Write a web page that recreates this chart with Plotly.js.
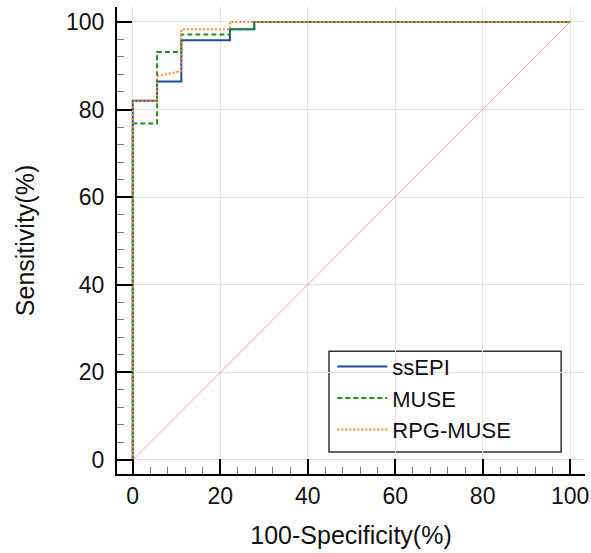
<!DOCTYPE html>
<html>
<head>
<meta charset="utf-8">
<script src="https://cdn.plot.ly/plotly-3.0.1.min.js"></script>
<style>
html,body{margin:0;padding:0;background:#fff;}
#chart{width:591px;height:553px;}
</style>
</head>
<body>
<div id="chart"></div>
<script>
// ROC step curves (100-Specificity %, Sensitivity %)
var ssEPI_x = [0, 0, 5.56, 5.56, 11.11, 11.11, 22.22, 22.22, 27.78, 27.78, 100];
var ssEPI_y = [0, 82.0, 82.0, 86.4, 86.4, 95.8, 95.8, 98.3, 98.3, 100, 100];

var MUSE_x = [0, 0, 5.56, 5.56, 11.11, 11.11, 22.22, 22.22, 27.78, 27.78, 100];
var MUSE_y = [0, 76.8, 76.8, 93.1, 93.1, 97.1, 97.1, 98.3, 98.3, 100, 100];

var RPG_x = [0, 0, 5.56, 5.56, 11.11, 11.11, 22.22, 22.22, 100];
var RPG_y = [0, 82.0, 82.0, 87.6, 88.8, 98.3, 98.3, 100, 100];

var diag_x = [0, 100];
var diag_y = [0, 100];

var seriesNames = ["ssEPI", "MUSE", "RPG-MUSE"];
var tickVals = [0, 20, 40, 60, 80, 100];
var tickText = ["0", "20", "40", "60", "80", "100"];

var FONT = "Liberation Sans, Arial, sans-serif";

var traces = [
  {x: diag_x, y: diag_y, mode: "lines", showlegend: false, hoverinfo: "skip",
   line: {color: "#e9a3a0", width: 1}},
  {x: ssEPI_x, y: ssEPI_y, mode: "lines", name: seriesNames[0],
   line: {color: "#1f4f9c", width: 2}},
  {x: MUSE_x, y: MUSE_y, mode: "lines", name: seriesNames[1],
   line: {color: "#1e8c1e", width: 2, dash: "5px,3px"}},
  {x: RPG_x, y: RPG_y, mode: "lines", name: seriesNames[2],
   line: {color: "#ff8433", width: 2, dash: "2px,2px"}}
];

function axisCommon() {
  return {
    showline: true, linecolor: "#000", linewidth: 2,
    zeroline: false,
    showgrid: true, gridcolor: "#e2e2e2", gridwidth: 1,
    tickmode: "array", tickvals: tickVals, ticktext: tickText,
    ticks: "inside", ticklen: 15, tickwidth: 2, tickcolor: "#000",
    tickfont: {family: FONT, size: 23, color: "#111"},
    minor: {dtick: 4, tick0: 0, ticks: "inside", ticklen: 7, tickwidth: 1, tickcolor: "#777", showgrid: false},
    fixedrange: true
  };
}

var xa = axisCommon();
xa.range = [-3.6, 103.4];
xa.title = {text: "100-Specificity(%)", font: {family: FONT, size: 25, color: "#111"}, standoff: 19};

var ya = axisCommon();
ya.range = [-3.2, 103.4];
ya.title = {text: "Sensitivity(%)", font: {family: FONT, size: 25, color: "#111"}, standoff: 24};
ya.ticklabelstandoff = 6;

var layout = {
  width: 591, height: 553,
  margin: {l: 117, r: 6, t: 7, b: 79, pad: 0},
  paper_bgcolor: "#fff", plot_bgcolor: "#fff",
  font: {family: FONT, color: "#111"},
  xaxis: xa, yaxis: ya,
  showlegend: true,
  legend: {
    x: 0.46, y: 0.275, xanchor: "left", yanchor: "top",
    bgcolor: "rgba(0,0,0,0)", borderwidth: 0,
    font: {family: FONT, size: 22, color: "#111"},
    itemwidth: 50, tracegroupgap: 0
  },
  shapes: [
    {type: "rect", xref: "paper", yref: "paper",
     x0: 0.453, x1: 0.949, y0: 0.047, y1: 0.263,
     line: {color: "#333", width: 1.5}, fillcolor: "rgba(255,255,255,0.9)", layer: "below"}
  ]
};

Plotly.newPlot("chart", traces, layout, {staticPlot: true, displayModeBar: false});
</script>
</body>
</html>
